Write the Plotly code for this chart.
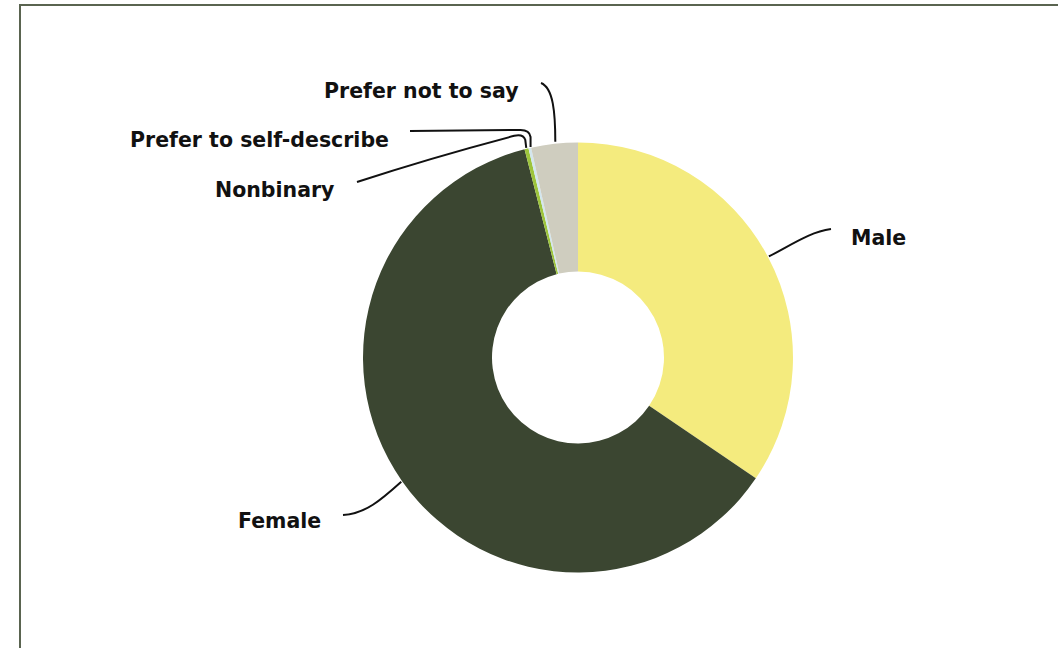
import math
import plotly.graph_objects as go

# Survey respondents by gender (percent)
labels = ["Male", "Female", "Nonbinary", "Prefer to self-describe", "Prefer not to say"]
values = [34.5, 61.5, 0.3, 0.2, 3.5]
colors = ["#F4EB7E", "#3B4631", "#9DC43C", "#D3E6EE", "#CFCDBF"]

W, H = 1058, 648
CX, CY, R = 578, 357.5, 215

fig = go.Figure()
fig.add_trace(go.Pie(
    labels=labels, values=values, sort=False, direction="clockwise", rotation=0,
    hole=0.4, marker=dict(colors=colors, line=dict(width=0)),
    textinfo="none", hoverinfo="label+percent", showlegend=False,
    domain=dict(x=[(CX - R) / W, (CX + R) / W],
                y=[(H - CY - R) / H, (H - CY + R) / H]),
))

# mid-angle anchor of every slice on the outer edge (clockwise from 12 o'clock)
total = sum(values)
anchors = {}
acc = 0.0
for lab, v in zip(labels, values):
    mid = (acc + v / 2) / total * 2 * math.pi
    anchors[lab] = (CX + (R + 1) * math.sin(mid), CY - (R + 1) * math.cos(mid))
    acc += v

# label placement and leader-line routing
label_pos = {
    "Male": (849, 238, "left"),
    "Female": (323, 521, "right"),
    "Nonbinary": (336, 190, "right"),
    "Prefer to self-describe": (391, 140, "right"),
    "Prefer not to say": (521, 91, "right"),
}


def leader(lab):
    sx, sy = anchors[lab]
    if lab == "Male":
        return f"M {sx},{sy} C {sx+25},{sy-13} {810},{232} {831},{229}"
    if lab == "Female":
        return f"M {sx},{sy} C {sx-20},{sy+18} {365},{514} {343},{515}"
    if lab == "Prefer not to say":
        return f"M {sx+1},{sy-1} C {sx+1},{sy-30} {sx-1},{sy-55} {541},{83}"
    if lab == "Prefer to self-describe":
        return (f"M {sx+1},{sy} L {sx+1},{sy-10} Q {sx},{sy-17} {sx-9},{sy-17} "
                f"L {410},{131}")
    # Nonbinary
    return (f"M {sx},{sy} L {sx-1},{sy-8} Q {sx-3},{sy-14} {sx-12},{sy-12} "
            f"Q {430},{158} {357},{182}")


shapes = []
for lab in labels:
    shapes.append(dict(type="path", xref="x", yref="y", path=leader(lab),
                       line=dict(color="#111111", width=2)))
    x, y, anchor = label_pos[lab]
    fig.add_annotation(x=x, y=y, xref="x", yref="y", text=f"<b>{lab}</b>",
                       showarrow=False, xanchor=anchor, yanchor="middle",
                       font=dict(family="DejaVu Sans", size=20.5, color="#111111"))

# chart frame
shapes.append(dict(type="rect", xref="x", yref="y", x0=20, y0=5, x1=W + 20, y1=H + 20,
                   line=dict(color="#5A6450", width=2)))

fig.update_layout(
    width=W, height=H, margin=dict(l=0, r=0, t=0, b=0),
    paper_bgcolor="white", plot_bgcolor="white",
    xaxis=dict(range=[0, W], visible=False, fixedrange=True),
    yaxis=dict(range=[H, 0], visible=False, fixedrange=True),
    shapes=shapes,
)

fig.write_html("out.html")
